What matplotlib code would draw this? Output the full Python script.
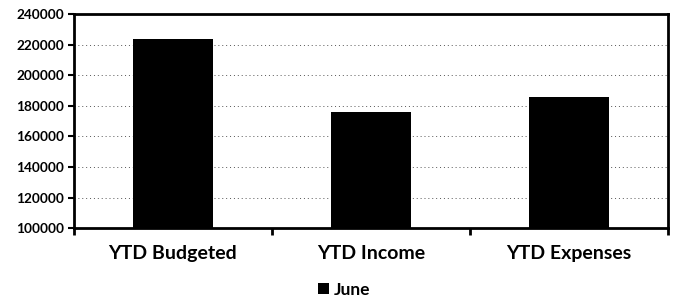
import matplotlib.pyplot as plt
from matplotlib.ticker import FixedLocator

plt.rcParams["font.family"] = ["Lato", "DejaVu Sans"]

categories = ["YTD Budgeted", "YTD Income", "YTD Expenses"]
june = [223500, 176000, 185700]
series_name = "June"
y_ticks = [100000, 120000, 140000, 160000, 180000, 200000, 220000, 240000]

fig = plt.figure(figsize=(6.75, 3.07), dpi=100)
ax = fig.add_axes([0.1096, 0.257, 0.88, 0.697])

x = range(len(categories))
ax.bar(x, june, width=0.4, color="black", label=series_name, zorder=3)

ax.set_ylim(y_ticks[0], y_ticks[-1])
ax.set_xlim(-0.5, len(categories) - 0.5)
ax.set_yticks(y_ticks)
ax.set_yticklabels([str(v) for v in y_ticks], fontsize=9.8, fontweight="bold")
ax.set_xticks(list(x))
ax.set_xticklabels(categories, fontsize=14, fontweight="bold")
ax.xaxis.set_minor_locator(FixedLocator([i - 0.5 for i in range(len(categories) + 1)]))
ax.tick_params(axis="x", which="major", length=0, pad=12)
ax.tick_params(axis="x", which="minor", length=5, width=2)
ax.tick_params(axis="y", length=4, width=1.5, pad=3)

ax.grid(axis="y", color="#555555", linestyle=(0, (1, 3)), linewidth=0.7, zorder=0)
for s in ax.spines.values():
    s.set_linewidth(2)
    s.set_color("black")

fig.legend(loc="lower center", bbox_to_anchor=(0.51, -0.02), frameon=False,
           prop={"size": 12.5, "weight": "bold"}, handlelength=0.6, handleheight=0.6,
           handletextpad=0.3)

fig.savefig("out.png", dpi=100)
